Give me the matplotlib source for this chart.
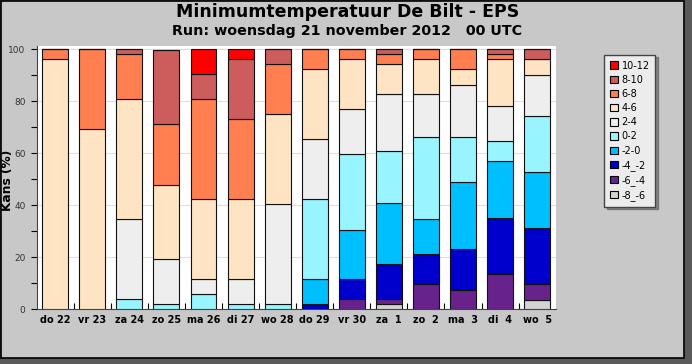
import matplotlib
matplotlib.use("Agg")
import matplotlib.pyplot as plt
from matplotlib.patches import Rectangle, Patch
import numpy as np

days = ["do 22", "vr 23", "za 24", "zo 25", "ma 26", "di 27", "wo 28",
        "do 29", "vr 30", "za  1", "zo  2", "ma  3", "di  4", "wo  5"]

classes = ["-8_-6", "-6_-4", "-4_-2", "-2-0", "0-2", "2-4", "4-6", "6-8", "8-10", "10-12"]
colors = ["#d3d3d3", "#68228b", "#0000cd", "#00bfff", "#98f5ff",
          "#eeeeee", "#ffe4c4", "#ff7f50", "#cd5c5c", "#ff0000"]

# percentage per class (bottom to top) for each day
p_m8_m6 = [0, 0, 0, 0, 0, 0, 0, 0, 0, 1.9, 0, 0, 0, 3.7]
p_m6_m4 = [0, 0, 0, 0, 0, 0, 0, 0, 3.8, 1.9, 9.6, 7.6, 13.5, 5.9]
p_m4_m2 = [0, 0, 0, 0, 0, 0, 0, 1.9, 7.7, 13.5, 11.6, 15.5, 21.5, 21.6]
p_m2_0 = [0, 0, 0, 0, 0, 0, 0, 9.6, 19.2, 23.7, 13.7, 25.7, 21.9, 21.5]
p_0_2 = [0, 0, 3.8, 1.9, 5.8, 1.9, 1.9, 30.8, 28.9, 19.9, 31.5, 17.6, 7.7, 21.6]
p_2_4 = [0, 0, 30.8, 17.3, 5.8, 9.6, 38.5, 23.1, 17.3, 21.8, 16.3, 20.0, 13.8, 15.9]
p_4_6 = [96.2, 69.2, 46.2, 28.8, 30.8, 30.8, 34.6, 26.9, 19.3, 11.5, 13.5, 5.9, 17.8, 6.0]
p_6_8 = [3.8, 30.8, 17.3, 23.1, 38.5, 30.8, 19.2, 7.7, 3.8, 3.9, 3.8, 7.7, 1.9, 0]
p_8_10 = [0, 0, 1.9, 28.8, 9.6, 23.1, 5.8, 0, 0, 1.9, 0, 0, 1.9, 3.8]
p_10_12 = [0, 0, 0, 0, 9.6, 3.8, 0, 0, 0, 0, 0, 0, 0, 0]

series = [p_m8_m6, p_m6_m4, p_m4_m2, p_m2_0, p_0_2, p_2_4, p_4_6, p_6_8, p_8_10, p_10_12]

title = "Minimumtemperatuur De Bilt - EPS"
subtitle = "Run: woensdag 21 november 2012   00 UTC"

W, H = 692, 364
fig = plt.figure(figsize=(W / 100, H / 100), dpi=100)
fig.patch.set_facecolor("#5a5a5a")
# panel
fig.add_artist(Rectangle((0.5 / W, 1 - 357.5 / H), 683.5 / W, 357 / H,
                         transform=fig.transFigure, facecolor="#c8c8c8",
                         edgecolor="black", linewidth=1.2, zorder=0))

ax = fig.add_axes([36.7 / W, 1 - 309.3 / H, 519 / W, 263.3 / H])
ax.set_facecolor("white")

x = np.arange(len(days))
bottom = np.zeros(len(days))
for vals, col in zip(series, colors):
    v = np.array(vals)
    ax.bar(x, v, bottom=bottom, width=0.7, color=col, edgecolor="#111111",
           linewidth=0.8, zorder=3)
    bottom += v

ax.set_xlim(-0.5, len(days) - 0.5)
ax.set_ylim(0, 101.3)
ax.set_yticks(np.arange(0, 101, 20))
ax.set_yticks(np.arange(10, 100, 20), minor=True)
ax.set_yticklabels([str(v) for v in range(0, 101, 20)], fontsize=6.5, color="#333333")
ax.tick_params(axis="y", which="both", direction="out", length=4, width=0.8, pad=4)
ax.set_xticks(x)
ax.set_xticklabels(days, fontsize=7, fontweight="bold")
ax.tick_params(axis="x", which="major", length=0, pad=4)
ax.set_xticks(np.arange(0.5, len(days) - 1, 1), minor=True)
ax.tick_params(axis="x", which="minor", direction="in", length=4, width=0.8)
ax.grid(axis="y", color="#dddddd", linewidth=0.8, zorder=0)
ax.set_axisbelow(True)
for s in ["top", "right"]:
    ax.spines[s].set_visible(False)
ax.spines["left"].set_color("#444444")
ax.spines["bottom"].set_color("#444444")

fig.text(7.5 / W, 1 - 180 / H, "Kans (%)", rotation=90, ha="center", va="center",
         fontsize=8.8, fontweight="bold")

fig.text(348 / W, 1 - 12 / H, title, ha="center", va="center",
         fontsize=12.5, fontweight="bold")
fig.text(347 / W, 1 - 31 / H, subtitle, ha="center", va="center",
         fontsize=10.3, fontweight="bold")

handles = [Patch(facecolor=c, edgecolor="black", linewidth=0.8, label=l)
           for c, l in zip(colors[::-1], classes[::-1])]
leg = fig.legend(handles=handles, loc="upper left",
                 bbox_to_anchor=(604 / W, 1 - 54.7 / H), fontsize=7,
                 frameon=True, fancybox=False, shadow=True,
                 handlelength=0.8, handleheight=0.8, handletextpad=0.4,
                 labelspacing=0.43, borderpad=0.6, borderaxespad=0)
leg.get_frame().set_facecolor("#ececec")
leg.get_frame().set_edgecolor("#444444")
leg.get_frame().set_linewidth(1.0)

fig.savefig("out.png", dpi=100)
